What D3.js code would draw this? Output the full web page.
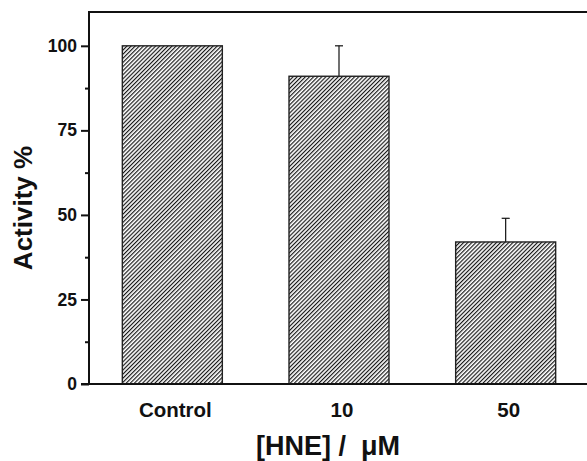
<!DOCTYPE html>
<html>
<head>
<meta charset="utf-8">
<script src="https://cdn.jsdelivr.net/npm/d3@7"></script>
<style>
  body { margin: 0; background: #fff; }
  svg { display: block; font-family: "Liberation Sans", Arial, sans-serif; }
</style>
</head>
<body>
<div id="chart"></div>
<script>
// data
var categories = ["Control", "10", "50"];
var activity = [100, 91, 42];
var errors = [0, 9, 7];
var yTicks = [0, 25, 50, 75, 100];
var yMinorTicks = [12.5, 37.5, 62.5, 87.5];

var w = 587, h = 461;
// plot area edges (named so they don't clash with window.top etc.)
var plotLeft = 89, plotRight = 589, plotTop = 12, plotBottom = 384;

var svg = d3.select("#chart").append("svg")
    .attr("width", w)
    .attr("height", h);

// hatch pattern for the bars
var defs = svg.append("defs");
defs.append("pattern")
    .attr("id", "hatch")
    .attr("patternUnits", "userSpaceOnUse")
    .attr("width", 2.9)
    .attr("height", 2.9)
    .attr("patternTransform", "rotate(45)")
    .append("line")
    .attr("x1", 0.6).attr("y1", 0)
    .attr("x2", 0.6).attr("y2", 2.9)
    .attr("stroke", "#111")
    .attr("stroke-width", 1.15);

var x = d3.scaleBand()
    .domain(categories)
    .range([plotLeft, plotRight])
    .paddingInner(0.4)
    .paddingOuter(0.2);

var y = d3.scaleLinear()
    .domain([0, 110])
    .range([plotBottom, plotTop]);

var data = categories.map(function(c, i) {
    return { cat: c, value: activity[i], err: errors[i] };
});

// error bars (upper only)
var eb = svg.append("g")
    .attr("stroke", "#111")
    .attr("stroke-width", 1.2);
data.filter(function(d) { return d.err > 0; }).forEach(function(d) {
    var cx = x(d.cat) + x.bandwidth() / 2;
    eb.append("line")
        .attr("x1", cx).attr("x2", cx)
        .attr("y1", y(d.value)).attr("y2", y(d.value + d.err));
    eb.append("line")
        .attr("x1", cx - 4).attr("x2", cx + 4)
        .attr("y1", y(d.value + d.err)).attr("y2", y(d.value + d.err));
});

// bars
svg.selectAll("rect.bar")
    .data(data)
    .enter()
    .append("rect")
    .attr("class", "bar")
    .attr("x", function(d) { return x(d.cat); })
    .attr("y", function(d) { return y(d.value); })
    .attr("width", x.bandwidth())
    .attr("height", function(d) { return y(0) - y(d.value); })
    .attr("fill", "url(#hatch)")
    .attr("stroke", "#222")
    .attr("stroke-width", 1.4);

// frame (right edge falls outside the picture)
svg.append("rect")
    .attr("x", plotLeft)
    .attr("y", plotTop)
    .attr("width", plotRight - plotLeft)
    .attr("height", plotBottom - plotTop)
    .attr("fill", "none")
    .attr("stroke", "#111")
    .attr("stroke-width", 2);

// y axis
var yAxis = svg.append("g")
    .attr("transform", "translate(" + plotLeft + ",0)")
    .call(d3.axisLeft(y).tickValues(yTicks).tickSize(8).tickPadding(4).tickFormat(d3.format("d")));
yAxis.select(".domain").remove();
yAxis.selectAll(".tick line").attr("stroke", "#111").attr("stroke-width", 2);
yAxis.selectAll(".tick text")
    .attr("fill", "#111")
    .style("font-size", "17.5px")
    .style("font-weight", "bold");

var yMinor = svg.append("g")
    .attr("transform", "translate(" + plotLeft + ",0)")
    .call(d3.axisLeft(y).tickValues(yMinorTicks).tickSize(4).tickFormat(""));
yMinor.select(".domain").remove();
yMinor.selectAll(".tick line").attr("stroke", "#111").attr("stroke-width", 2);

// x axis
var xAxis = svg.append("g")
    .attr("transform", "translate(0," + plotBottom + ")")
    .call(d3.axisBottom(x).tickSize(0));
xAxis.select(".domain").remove();
xAxis.selectAll(".tick text")
    .attr("dy", null)
    .attr("y", 33)
    .attr("dx", 3)
    .attr("fill", "#111")
    .style("font-size", "20.5px")
    .style("font-weight", "bold");

// bottom axis line extends slightly left of the frame
svg.append("line")
    .attr("x1", 81).attr("x2", plotRight)
    .attr("y1", plotBottom).attr("y2", plotBottom)
    .attr("stroke", "#111")
    .attr("stroke-width", 2);

// axis titles
svg.append("text")
    .attr("x", 328)
    .attr("y", 455)
    .attr("text-anchor", "middle")
    .attr("fill", "#111")
    .style("font-size", "27px")
    .style("font-weight", "bold")
    .style("white-space", "pre")
    .text("[HNE] /  \u03BCM");

svg.append("text")
    .attr("transform", "translate(32,208) rotate(-90)")
    .attr("text-anchor", "middle")
    .attr("fill", "#111")
    .style("font-size", "26px")
    .style("font-weight", "bold")
    .style("white-space", "pre")
    .text("Activity %");
</script>
</body>
</html>
